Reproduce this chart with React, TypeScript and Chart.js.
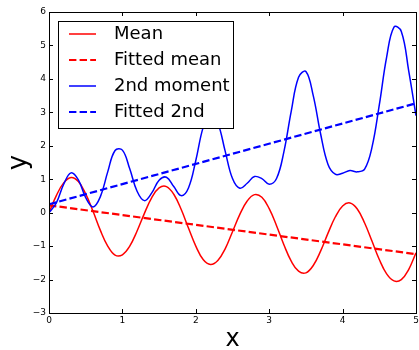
import React, { useEffect, useRef } from 'react';
import { Chart, registerables } from 'chart.js';

Chart.register(...registerables);

// ---- data ----
const xValues = [
  0, 0.1, 0.2, 0.3, 0.4, 0.5, 0.6, 0.7, 0.8, 0.9,
  1.0, 1.1, 1.2, 1.3, 1.4, 1.5, 1.6, 1.7, 1.8, 1.9,
  2.0, 2.1, 2.2, 2.3, 2.4, 2.5, 2.6, 2.7, 2.8, 2.9,
  3.0, 3.1, 3.2, 3.3, 3.4, 3.5, 3.6, 3.7, 3.8, 3.9,
  4.0, 4.1, 4.2, 4.3, 4.4, 4.5, 4.6, 4.7, 4.8, 4.9,
  5.0,
];

const meanValues = [
  0, 0.51, 0.89, 1.05, 0.93, 0.56, 0.04, -0.53, -1.0, -1.27,
  -1.26, -1.0, -0.55, -0.02, 0.45, 0.74, 0.78, 0.55, 0.1, -0.46,
  -1.0, -1.4, -1.55, -1.43, -1.08, -0.57, -0.05, 0.35, 0.54, 0.46,
  0.12, -0.39, -0.96, -1.45, -1.75, -1.8, -1.58, -1.15, -0.62, -0.13,
  0.2, 0.29, 0.11, -0.31, -0.85, -1.4, -1.83, -2.04, -2.0, -1.7,
  -1.2,
];

const secondMomentValues = [
  0, 0.29, 0.85, 1.19, 0.98, 0.45, 0.17, 0.48, 1.22, 1.86,
  1.87, 1.31, 0.64, 0.36, 0.59, 0.97, 1.06, 0.78, 0.51, 0.74,
  1.56, 2.55, 3.02, 2.69, 1.84, 1.02, 0.73, 0.88, 1.08, 1.02,
  0.85, 1.02, 1.82, 3.03, 4.05, 4.22, 3.5, 2.36, 1.45, 1.15,
  1.18, 1.26, 1.22, 1.3, 1.95, 3.22, 4.65, 5.55, 5.42, 4.25,
  2.9,
];

const fitX = [0, 5];
const fittedMean = [0.22, -1.24];
const fitted2nd = [0.25, 3.27];

const seriesLabels = ['Mean', 'Fitted mean', '2nd moment', 'Fitted 2nd'];
const xAxisTitle = 'x';
const yAxisTitle = 'y';

const RED = '#ff0000';
const BLUE = '#0000ff';
const DASH = [7.4, 3.2];
const FONT = "'DejaVu Sans', sans-serif";

const toPoints = (xs: number[], ys: number[]) => xs.map((x, i) => ({ x, y: ys[i] }));

const fmt = (v: number) => (v < 0 ? '\u2212' + Math.abs(v) : String(v));

const framePlugin = {
  id: 'mplFrame',
  afterDatasetsDraw(chart: any) {
    const { ctx, chartArea: a, scales } = chart;
    ctx.save();

    // legend box (upper left, opaque)
    const lx = a.left + 9.5;
    const ly = a.top + 9.5;
    const lw = 175;
    const lh = 107;
    ctx.fillStyle = '#ffffff';
    ctx.fillRect(lx, ly, lw, lh);
    ctx.strokeStyle = '#000';
    ctx.lineWidth = 1;
    ctx.strokeRect(lx, ly, lw, lh);

    const datasets = chart.data.datasets;
    ctx.font = `18px ${FONT}`;
    ctx.textBaseline = 'middle';
    ctx.textAlign = 'left';
    seriesLabels.forEach((label, i) => {
      const ds = datasets.find((d: any) => d.label === label);
      const cy = a.top + 22 + i * 26;
      ctx.beginPath();
      ctx.strokeStyle = ds.borderColor;
      ctx.lineWidth = ds.borderWidth;
      ctx.setLineDash(ds.borderDash || []);
      ctx.moveTo(a.left + 20, cy);
      ctx.lineTo(a.left + 47, cy);
      ctx.stroke();
      ctx.setLineDash([]);
      ctx.fillStyle = '#000';
      ctx.fillText(label, a.left + 65, cy + 0.5);
    });

    // frame
    ctx.strokeStyle = '#000';
    ctx.lineWidth = 1;
    ctx.strokeRect(a.left + 0.5, a.top + 0.5, a.right - a.left, a.bottom - a.top);

    // inward ticks on all four sides
    const L = 4;
    ctx.beginPath();
    scales.x.ticks.forEach((t: any) => {
      const px = Math.round(scales.x.getPixelForValue(t.value)) + 0.5;
      ctx.moveTo(px, a.bottom);
      ctx.lineTo(px, a.bottom - L);
      ctx.moveTo(px, a.top);
      ctx.lineTo(px, a.top + L);
    });
    scales.y.ticks.forEach((t: any) => {
      const py = Math.round(scales.y.getPixelForValue(t.value)) + 0.5;
      ctx.moveTo(a.left, py);
      ctx.lineTo(a.left + L, py);
      ctx.moveTo(a.right, py);
      ctx.lineTo(a.right - L, py);
    });
    ctx.stroke();
    ctx.restore();
  },
};

export default function App() {
  const canvasRef = useRef<HTMLCanvasElement | null>(null);

  useEffect(() => {
    const canvas = canvasRef.current;
    if (!canvas) return;
    const chart = new Chart(canvas, {
      type: 'line',
      data: {
        datasets: [
          {
            label: seriesLabels[0],
            data: toPoints(xValues, meanValues),
            borderColor: RED,
            borderWidth: 1.5,
            pointRadius: 0,
            tension: 0.4,
            fill: false,
            order: 4,
          },
          {
            label: seriesLabels[1],
            data: toPoints(fitX, fittedMean),
            borderColor: RED,
            borderWidth: 2.2,
            borderDash: DASH,
            pointRadius: 0,
            tension: 0,
            fill: false,
            order: 3,
          },
          {
            label: seriesLabels[2],
            data: toPoints(xValues, secondMomentValues),
            borderColor: BLUE,
            borderWidth: 1.5,
            pointRadius: 0,
            tension: 0.4,
            fill: false,
            order: 2,
          },
          {
            label: seriesLabels[3],
            data: toPoints(fitX, fitted2nd),
            borderColor: BLUE,
            borderWidth: 2.2,
            borderDash: DASH,
            pointRadius: 0,
            tension: 0,
            fill: false,
            order: 1,
          },
        ],
      },
      options: {
        responsive: false,
        animation: false,
        devicePixelRatio: 1,
        layout: { padding: { left: 0, top: 12, right: 3, bottom: 0 } },
        plugins: {
          legend: { display: false },
          tooltip: { enabled: false },
        },
        scales: {
          x: {
            type: 'linear',
            min: 0,
            max: 5,
            grid: { display: false, drawTicks: false },
            border: { display: false },
            ticks: {
              stepSize: 1,
              padding: 2,
              color: '#000',
              maxRotation: 0,
              font: { family: FONT, size: 9 },
              callback: (v: any) => fmt(Number(v)),
            },
            title: {
              display: true,
              text: xAxisTitle,
              color: '#000',
              font: { family: FONT, size: 24, lineHeight: 0.85 },
              padding: { top: 0, bottom: 0 },
            },
            afterFit: (s: any) => {
              s.height = 37;
              s.paddingLeft = 0;
              s.paddingRight = 0;
            },
          },
          y: {
            type: 'linear',
            min: -3,
            max: 6,
            grid: { display: false, drawTicks: false },
            border: { display: false },
            ticks: {
              stepSize: 1,
              padding: 3,
              color: '#000',
              font: { family: FONT, size: 9 },
              callback: (v: any) => fmt(Number(v)),
            },
            title: {
              display: true,
              text: yAxisTitle,
              color: '#000',
              font: { family: FONT, size: 26, lineHeight: 1.2 },
              padding: { top: 4, bottom: 0 },
            },
            afterFit: (s: any) => {
              s.width = 49;
              s.paddingTop = 0;
              s.paddingBottom = 0;
            },
          },
        },
      },
      plugins: [framePlugin],
    });
    return () => chart.destroy();
  }, []);

  return (
    <div style={{ position: 'absolute', left: 0, top: 0, width: 419, height: 350, background: '#fff' }}>
      <canvas ref={canvasRef} width={419} height={350} style={{ display: 'block' }} />
    </div>
  );
}
